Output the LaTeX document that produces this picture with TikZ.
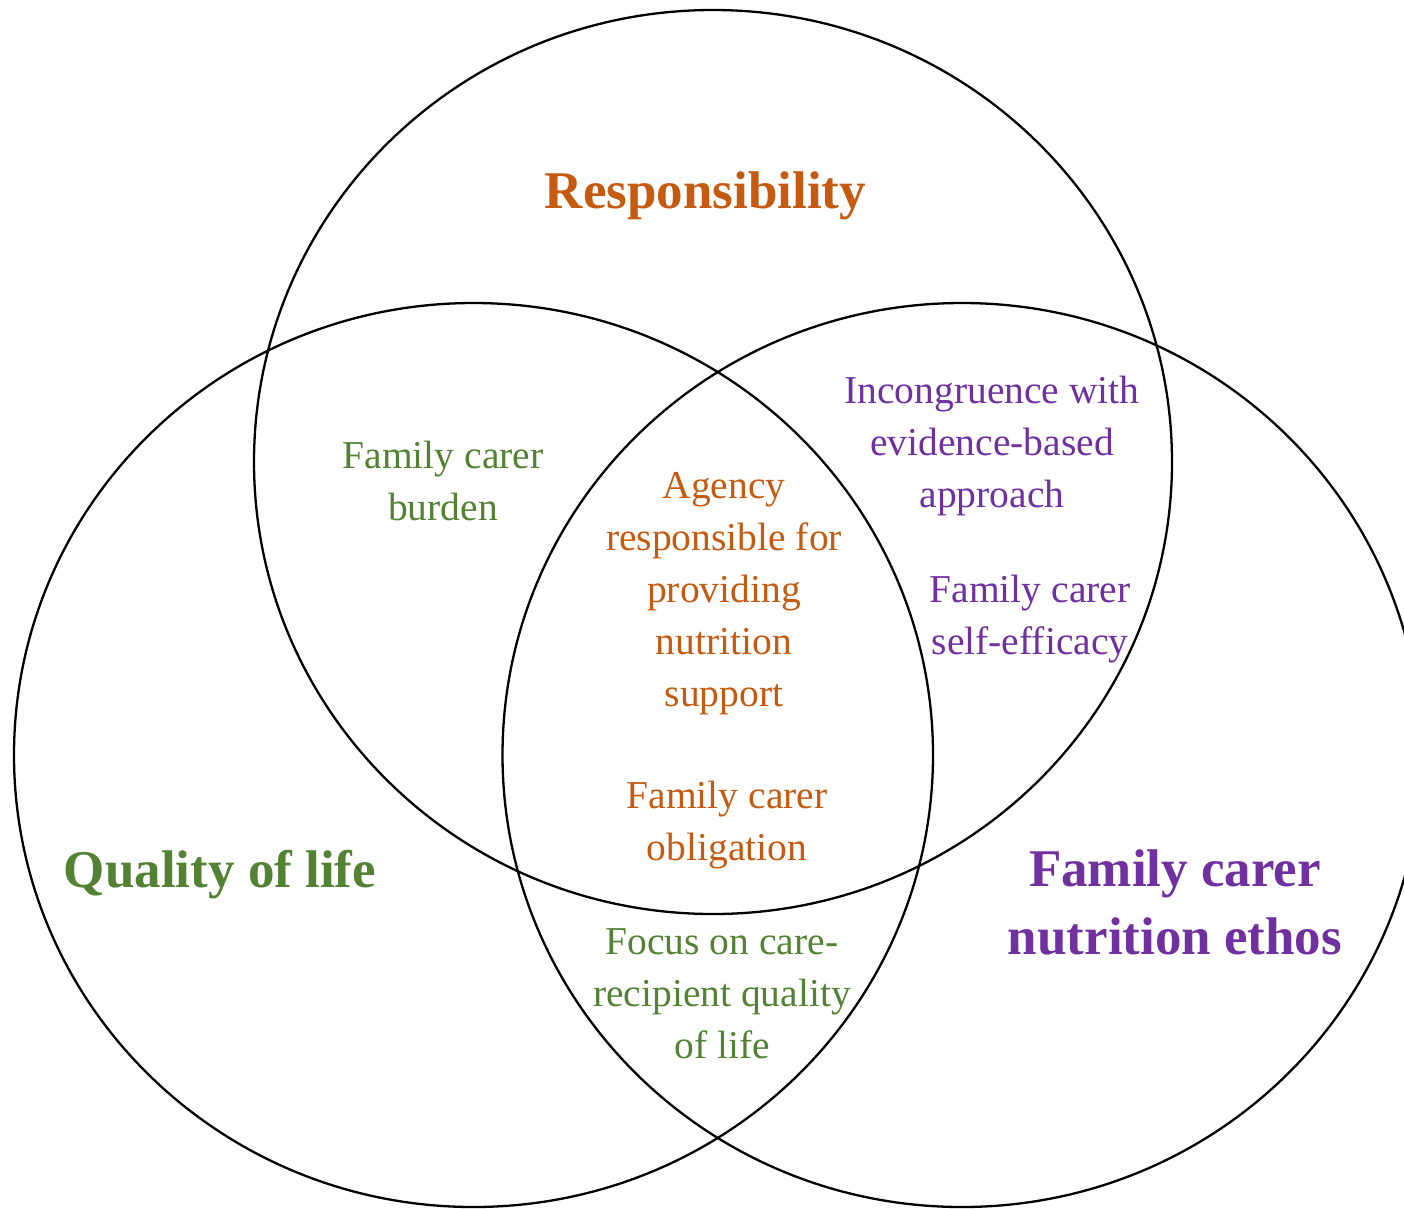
\documentclass[tikz,border=0pt]{standalone}
\usepackage{fontspec}
\setmainfont{Liberation Serif}
\definecolor{resporange}{HTML}{C55A11}
\definecolor{qolgreen}{HTML}{548235}
\definecolor{ethospurple}{HTML}{7030A0}
\begin{document}
\begin{tikzpicture}[x=1pt,y=-1pt,
  venn/.style={draw=black,line width=2.3pt},
  small/.style={inner sep=0pt,align=center,font=\fontsize{39.5}{52}\selectfont},
  big/.style={inner sep=0pt,align=center,font=\fontsize{53}{68}\selectfont\bfseries}]
\useasboundingbox (0,0) rectangle (1404,1208);
\clip (0,0) rectangle (1404,1208);
\fill[white] (0,0) rectangle (1404,1208);
% circles
\draw[venn] (713,462) ellipse [x radius=459, y radius=452];
\draw[venn] (473.5,755) ellipse [x radius=459.5, y radius=452];
\draw[venn] (962,755) ellipse [x radius=459.5, y radius=452];
% titles
\node[big,text=resporange,anchor=base] (resp) at (705.5,208) {Responsibility};
\node[big,text=qolgreen,anchor=base] (qol) at (220,887) {Quality of life};
\node[big,text=ethospurple] (ethos) at (1175,902.5) {Family carer\\nutrition ethos};
% labels
\node[small,text=qolgreen] (burden) at (443,480.5) {Family carer\\burden};
\node[small,text=resporange] (agency) at (724,594) {Agency\\responsible for\\providing\\nutrition\\support};
\node[small,text=resporange] (oblig) at (727,825) {Family carer\\obligation};
\node[small,text=qolgreen] (focus) at (722,994) {Focus on care-\\recipient quality\\of life};
\node[small,text=ethospurple] (incong) at (992,445.5) {Incongruence with\\evidence-based\\approach};
\node[small,text=ethospurple] (selfeff) at (1030,619) {Family carer\\self-efficacy};
\end{tikzpicture}
\end{document}
